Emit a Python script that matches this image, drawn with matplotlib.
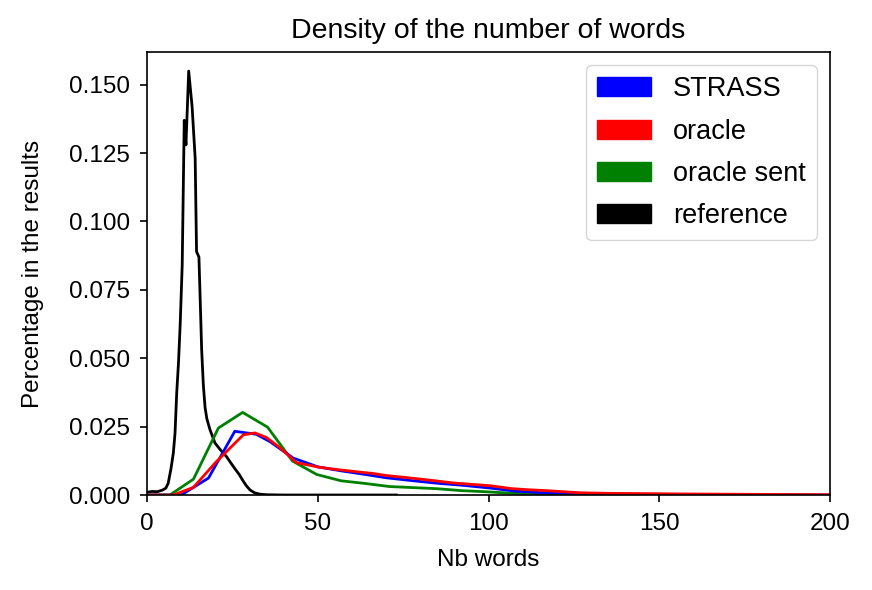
import matplotlib
matplotlib.use('Agg')
import matplotlib.pyplot as plt
import matplotlib.patches as mpatches

plt.rcParams['font.family'] = ['Liberation Sans', 'DejaVu Sans']

# STRASS
strass_x = [0, 10, 18, 25.7, 32, 36, 42.8, 50, 57, 64, 70, 78, 85, 92, 100, 108, 115, 125, 140, 160, 180, 200]
strass_y = [0, 0, 0.0062, 0.0233, 0.0222, 0.0195, 0.0135, 0.0103, 0.0088, 0.0075, 0.0063, 0.0052,
            0.0043, 0.0036, 0.0026, 0.0014, 0.0009, 0.0006, 0.0003, 0.0002, 0.0001, 0.0]

# oracle
oracle_x = [0, 7.7, 13.6, 20, 28.2, 31.6, 35, 39, 43.8, 50.7, 55, 61.4, 66, 70.2, 75, 80.9, 85, 89.7,
            95, 100.4, 107, 112, 117, 122, 127, 136, 146, 156, 170, 185, 200]
oracle_y = [0, 0, 0.0028, 0.0118, 0.0220, 0.0227, 0.0210, 0.0172, 0.0118, 0.0101, 0.0094, 0.0085,
            0.0079, 0.0071, 0.0065, 0.0057, 0.0051, 0.0044, 0.0039, 0.0034, 0.0023, 0.0019, 0.0016,
            0.0012, 0.0008, 0.0006, 0.0005, 0.0004, 0.0003, 0.0002, 0.0001]

# oracle sent
sent_x = [0, 6.7, 13.6, 20.9, 28.0, 35.3, 42.6, 49.7, 56.8, 64, 71, 78, 85, 92, 99, 106, 113, 120, 127, 135, 150]
sent_y = [0, 0, 0.0058, 0.0245, 0.0302, 0.0248, 0.0124, 0.0075, 0.0052, 0.0042, 0.0031, 0.0027,
          0.0023, 0.0016, 0.0012, 0.0007, 0.0004, 0.0003, 0.0002, 0.0001, 0.0]

# reference
ref_x = [0, 1.5, 3, 4.5, 5.5, 6.2, 7, 7.7, 8.2, 8.7, 9.2, 9.7, 10.3, 10.9, 11.4, 12.2, 13.2, 14.1,
         14.5, 15.2, 16.0, 16.5, 17.0, 17.5, 18.4, 19.9, 21.5, 23.3, 24.5, 25.8, 27, 28.2, 29.2,
         30.2, 31.5, 33.1, 35, 40, 73]
ref_y = [0.0010, 0.0013, 0.0012, 0.0018, 0.0025, 0.0043, 0.0095, 0.0153, 0.0226, 0.0375, 0.048,
         0.062, 0.084, 0.137, 0.128, 0.155, 0.142, 0.123, 0.089, 0.087, 0.053, 0.040, 0.032, 0.028,
         0.024, 0.019, 0.0165, 0.014, 0.0118, 0.0095, 0.0075, 0.005, 0.0032, 0.0018, 0.0008,
         0.0003, 0.0001, 0.0, 0.0]

names = ['STRASS', 'oracle', 'oracle sent', 'reference']
colors = ['blue', 'red', 'green', 'black']

fig = plt.figure(figsize=(8.72, 5.9), dpi=100)
ax = fig.add_subplot(111)
fig.subplots_adjust(left=0.1686, right=0.952, top=0.912, bottom=0.161)

ax.plot(ref_x, ref_y, color='black', lw=2)
ax.plot(sent_x, sent_y, color='green', lw=2)
ax.plot(strass_x, strass_y, color='blue', lw=2)
ax.plot(oracle_x, oracle_y, color='red', lw=2)

ax.set_xlim(0, 200)
ax.set_ylim(0, 0.162)
ax.set_xticks([0, 50, 100, 150, 200])
ax.set_yticks([0, 0.025, 0.05, 0.075, 0.1, 0.125, 0.15])
ax.tick_params(labelsize=17.5, length=5, width=1.2)
ax.tick_params(axis='x', pad=8)
ax.tick_params(axis='y', pad=7)
for s in ax.spines.values():
    s.set_linewidth(1.2)
ax.set_title('Density of the number of words', fontsize=20.5, pad=10)
ax.set_xlabel('Nb words', fontsize=17.5, labelpad=10)
ax.set_ylabel('Percentage in the results', fontsize=17.5, labelpad=18)

handles = [mpatches.Patch(facecolor=c, edgecolor=c, label=n) for c, n in zip(colors, names)]
ax.legend(handles=handles, loc='upper right', fontsize=19.5, labelspacing=0.6,
          borderaxespad=0.5)

fig.savefig('out.png', dpi=100)
